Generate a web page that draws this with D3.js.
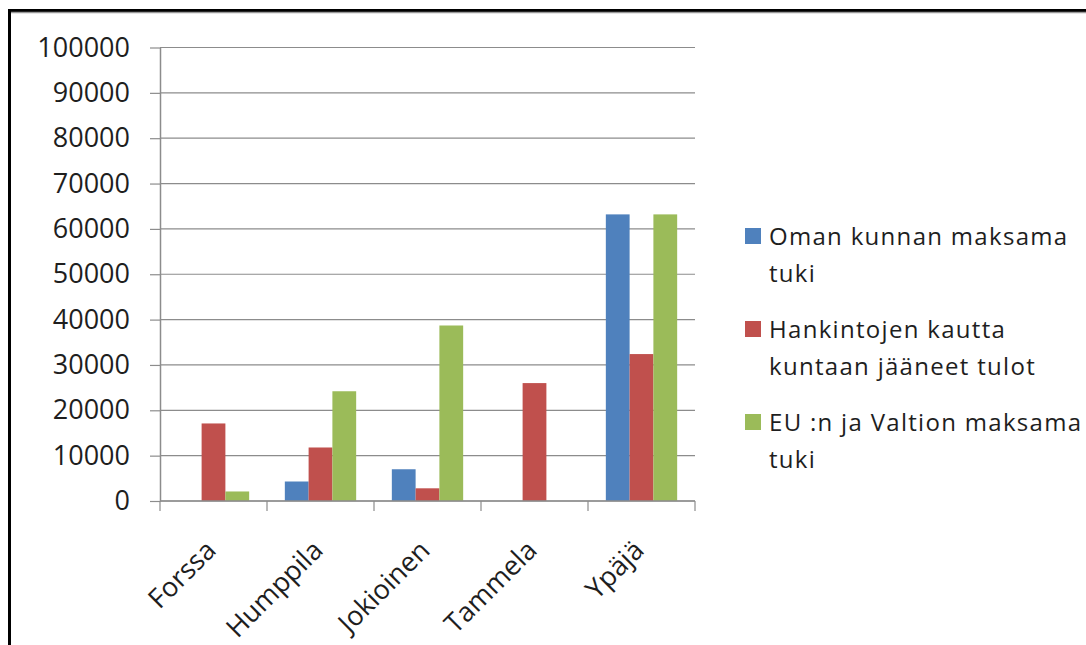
<!DOCTYPE html>
<html>
<head>
<meta charset="utf-8">
<script src="https://cdn.jsdelivr.net/npm/d3@7"></script>
<style>
  body { margin: 0; background: #fff; }
  svg text { font-family: "Open Sans", Lato, sans-serif; fill: #1e1e1e; }
</style>
</head>
<body>
<svg id="canvas" width="1086" height="645"></svg>
<script>
let categories = ["Forssa", "Humppila", "Jokioinen", "Tammela", "Ypäjä"]
let seriesNames = [
    ["Oman kunnan maksama", "tuki"],
    ["Hankintojen kautta", "kuntaan jääneet tulot"],
    ["EU :n ja Valtion maksama", "tuki"]
]
let omanKunnan = [0, 4300, 7000, 0, 63200]
let hankintojen = [17100, 11800, 2800, 26000, 32400]
let euValtio = [2100, 24200, 38700, 0, 63200]
let yTicks = [0, 10000, 20000, 30000, 40000, 50000, 60000, 70000, 80000, 90000, 100000]

let colors = ["#4F81BD", "#C0504D", "#9BBB59"]
let allSeries = [omanKunnan, hankintojen, euValtio]

let canvas = d3.select("#canvas")

// frame
canvas.append("rect").attr("x", 0).attr("y", 0).attr("width", 1086).attr("height", 645).attr("fill", "#fff")
canvas.append("line").attr("x1", 9).attr("x2", 1086).attr("y1", 10.5).attr("y2", 10.5)
    .attr("stroke", "#000").attr("stroke-width", 3)
canvas.append("line").attr("x1", 9).attr("x2", 1086).attr("y1", 12.5).attr("y2", 12.5)
    .attr("stroke", "#999").attr("stroke-width", 1.5)
canvas.append("line").attr("x1", 9.5).attr("x2", 9.5).attr("y1", 9).attr("y2", 645)
    .attr("stroke", "#000").attr("stroke-width", 3)

let plotLeft = 160, plotRight = 695, plotTop = 47.5, plotBottom = 501

let xScale = d3.scaleBand()
    .domain(categories)
    .range([plotLeft, plotRight])
    .paddingInner(0)

let yScale = d3.scaleLinear()
    .domain([0, 100000])
    .range([plotBottom, plotTop])

// gridlines
canvas.append("g")
    .selectAll("line")
    .data(yTicks)
    .enter()
    .append("line")
    .attr("x1", plotLeft)
    .attr("x2", plotRight)
    .attr("y1", d => yScale(d))
    .attr("y2", d => yScale(d))
    .attr("stroke", "#8c8c8c")
    .attr("stroke-width", 1.2)

// y axis
let yAxis = d3.axisLeft(yScale)
    .tickValues(yTicks)
    .tickSizeInner(10)
    .tickSizeOuter(0)
    .tickPadding(20)
    .tickFormat(d3.format("d"))

let yAxisG = canvas.append("g")
    .attr("transform", "translate(" + plotLeft + ",0)")
    .call(yAxis)
yAxisG.select(".domain").attr("stroke", "#8c8c8c").attr("stroke-width", 1.5)
yAxisG.selectAll(".tick line").attr("stroke", "#8c8c8c").attr("stroke-width", 1.2)
yAxisG.selectAll(".tick text")
    .style("font-size", "27px")
    .style("font-family", "'Open Sans', sans-serif")
    .attr("fill", "#1e1e1e")

// bars
let inner = d3.scaleBand()
    .domain([0, 1, 2])
    .range([0, xScale.bandwidth()])
    .paddingOuter(0.75)
    .paddingInner(0)

allSeries.forEach((values, s) => {
    canvas.append("g")
        .selectAll("rect")
        .data(values)
        .enter()
        .append("rect")
        .attr("x", (d, i) => xScale(categories[i]) + inner(s))
        .attr("width", inner.bandwidth())
        .attr("y", d => yScale(d))
        .attr("height", d => plotBottom - yScale(d))
        .attr("fill", colors[s])
})

// x axis
let xAxisLine = canvas.append("g")
xAxisLine.append("line")
    .attr("x1", plotLeft).attr("x2", plotRight)
    .attr("y1", plotBottom).attr("y2", plotBottom)
    .attr("stroke", "#8c8c8c").attr("stroke-width", 1.5)
xAxisLine.selectAll(".xtick")
    .data(d3.range(categories.length + 1))
    .enter()
    .append("line")
    .attr("x1", i => plotLeft + i * xScale.bandwidth())
    .attr("x2", i => plotLeft + i * xScale.bandwidth())
    .attr("y1", plotBottom)
    .attr("y2", plotBottom + 10)
    .attr("stroke", "#8c8c8c").attr("stroke-width", 1.2)

canvas.append("g")
    .selectAll("text")
    .data(categories)
    .enter()
    .append("text")
    .attr("transform", d => "translate(" + (xScale(d) + xScale.bandwidth() / 2 + 4) + ",552) rotate(-45)")
    .attr("text-anchor", "end")
    .style("font-size", "27px")
    .text(d => d)

// legend
let legend = canvas.append("g").attr("id", "legend")
seriesNames.forEach((lines, s) => {
    let y0 = 245 + s * 93
    legend.append("rect")
        .attr("x", 745)
        .attr("y", y0 - 17)
        .attr("width", 16)
        .attr("height", 16)
        .attr("fill", colors[s])
    lines.forEach((t, j) => {
        legend.append("text")
            .attr("x", 769)
            .attr("y", y0 + j * 37)
            .style("font-size", "24px")
            .style("letter-spacing", "1.3px")
            .text(t)
    })
})
</script>
</body>
</html>
